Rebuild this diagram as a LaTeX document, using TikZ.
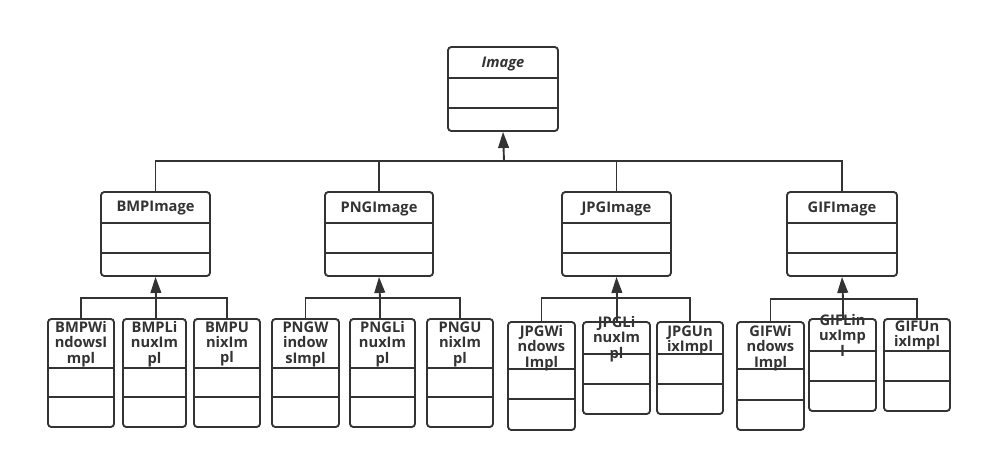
\documentclass[tikz,border=0pt]{standalone}
\usepackage{fontspec}
\setmainfont{Open Sans}
\usetikzlibrary{arrows.meta}
\definecolor{ink}{HTML}{333333}
\tikzset{
  clsbox/.style={draw=ink, line width=1.4pt, rounded corners=2.5pt, rectangle, inner sep=0pt, fill=white},
  sepline/.style={draw=ink, line width=1.4pt},
  conn/.style={draw=ink, line width=1.4pt},
  inh/.style={draw=ink, line width=1.4pt, -{Triangle[length=12pt,width=8pt]}},
  lbl/.style={text=ink, font=\fontsize{11}{11.6}\selectfont\bfseries, inner sep=0pt, align=center},
}
% name, left, top, right, bottom, sep1, sep2
\newcommand\umlcls[7]{%
  \node[clsbox, minimum width={(#4-#2)*0.75pt}, minimum height={(#5-#3)*0.75pt}] (#1) at ({(#2+#4)/2},{(#3+#5)/2}) {};
  \draw[sepline] (#1.west |- 0,#6) -- (#1.east |- 0,#6);
  \draw[sepline] (#1.west |- 0,#7) -- (#1.east |- 0,#7);
}
\begin{document}
\begin{tikzpicture}[x=0.75pt,y=-0.75pt]
\useasboundingbox (0,0) rectangle (981,462);
% top
\umlcls{img}{448}{47}{558}{131}{78}{108}
\node[lbl, font=\fontsize{11}{11.6}\selectfont\bfseries\itshape] (imgt) at (503,64.5) {Image};
% mid level
\umlcls{bmp}{101}{192}{210}{276}{223}{253}
\umlcls{png}{325}{192}{433}{276}{223}{253}
\umlcls{jpg}{562}{192}{671}{276}{223}{253}
\umlcls{gif}{787}{192}{897}{276}{223}{253}
\node[lbl] (bmpt) at (155.5,208.5) {BMPImage};
\node[lbl] (pngt) at (379,208.5) {PNGImage};
\node[lbl] (jpgt) at (616.5,208.5) {JPGImage};
\node[lbl] (gift) at (842,208.5) {GIFImage};
% children
\umlcls{bmpw}{48}{319}{114}{427}{368}{397}
\umlcls{bmpl}{123}{319}{186}{427}{368}{397}
\umlcls{bmpu}{194}{319}{260}{427}{368}{397}
\umlcls{pngw}{272}{319}{339}{427}{368}{397}
\umlcls{pngl}{350}{319}{415}{427}{368}{397}
\umlcls{pngu}{427}{319}{493}{427}{368}{397}
\umlcls{jpgw}{508}{322}{575}{430}{369}{399}
\umlcls{jpgl}{583}{322}{650}{414}{354}{384}
\umlcls{jpgu}{657}{322}{723}{414}{354}{384}
\umlcls{gifw}{737}{322}{804}{430}{369}{400}
\umlcls{gifl}{809}{319}{876}{411}{351}{381}
\umlcls{gifu}{884}{319}{950}{411}{351}{381}
% bus coordinates
\coordinate (topbus) at (504,161);
\coordinate (bmpbus) at (156,298);
\coordinate (pngbus) at (380,298);
\coordinate (jpgbus) at (617,298);
\coordinate (gifbus) at (843,299);
% top connectors
\draw[conn] (bmp.north) |- (topbus);
\draw[conn] (png.north) |- (topbus);
\draw[conn] (jpg.north) |- (topbus);
\draw[conn] (gif.north) |- (topbus);
\draw[inh] (topbus) -- (img.south);
% bmp
\draw[conn] (bmpw.north) |- (bmpbus);
\draw[conn] (bmpu.north) |- (bmpbus);
\draw[conn] (bmpbus |- bmpl.north) -- (bmpbus);
\draw[inh] (bmpbus) -- (bmp.south);
% png
\draw[conn] (pngw.north) |- (pngbus);
\draw[conn] (pngu.north) |- (pngbus);
\draw[conn] (pngbus |- pngl.north) -- (pngbus);
\draw[inh] (pngbus) -- (png.south);
% jpg
\draw[conn] (jpgw.north) |- (jpgbus);
\draw[conn] (jpgu.north) |- (jpgbus);
\draw[conn] (jpgbus |- jpgl.north) -- (jpgbus);
\draw[inh] (jpgbus) -- (jpg.south);
% gif
\draw[conn] (gifw.north) |- (gifbus);
\draw[conn] (gifu.north) |- (gifbus);
\draw[conn] (gifbus |- gifl.north) -- (gifbus);
\draw[inh] (gifbus) -- (gif.south);
% child labels
\node[lbl] (bmpwt) at (81,344) {BMPWi\\ndowsI\\mpl};
\node[lbl] (bmplt) at (154.5,344) {BMPLi\\nuxIm\\pl};
\node[lbl] (bmput) at (227,344) {BMPU\\nixIm\\pl};
\node[lbl] (pngwt) at (305.5,344) {PNGW\\indow\\sImpl};
\node[lbl] (pnglt) at (382.5,344) {PNGLi\\nuxIm\\pl};
\node[lbl] (pngut) at (460,344) {PNGU\\nixIm\\pl};
\node[lbl] (jpgwt) at (541.5,348) {JPGWi\\ndows\\Impl};
\node[lbl] (jpglt) at (616.5,339) {JPGLi\\nuxIm\\pl};
\node[lbl] (jpgut) at (690,340.5) {JPGUn\\ixImpl};
\node[lbl] (gifwt) at (770.5,348) {GIFWi\\ndows\\Impl};
\node[lbl] (giflt) at (842.5,335) {GIFLin\\uxImp\\l};
\node[lbl] (gifut) at (917,335.5) {GIFUn\\ixImpl};
\end{tikzpicture}
\end{document}
